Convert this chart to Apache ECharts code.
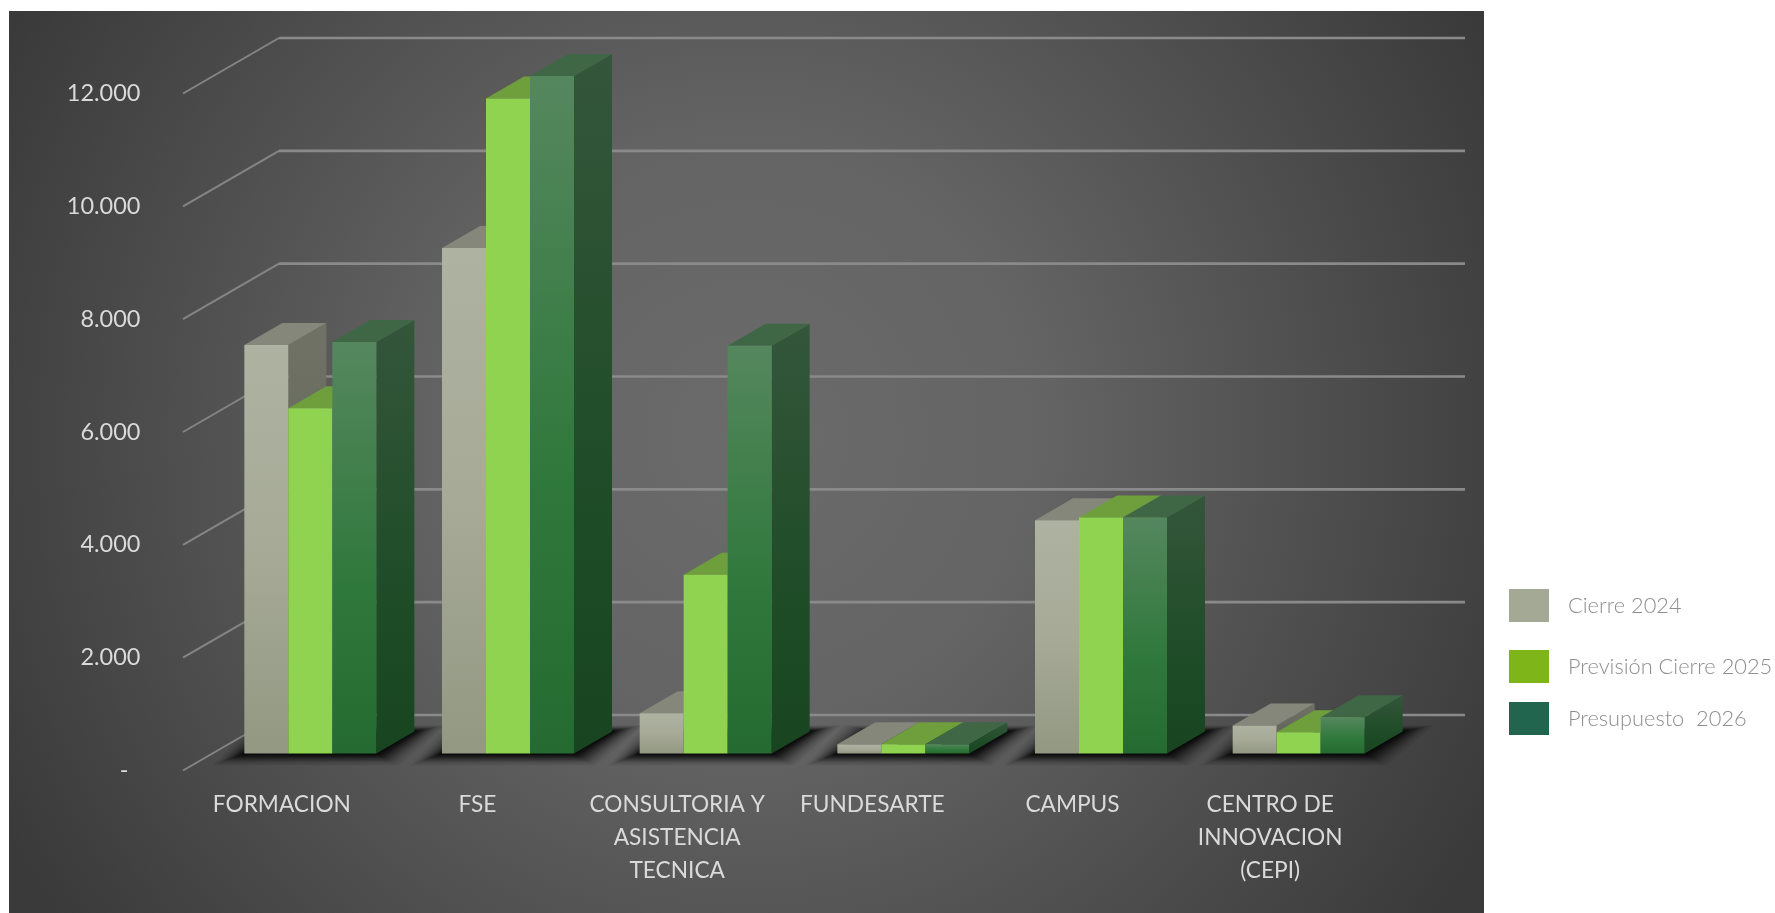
<!DOCTYPE html>
<html>
<head>
<meta charset="utf-8">
<style>html,body{margin:0;padding:0;background:#fff}#c{width:1775px;height:913px}</style>
<script src="https://cdn.jsdelivr.net/npm/echarts@6/dist/echarts.min.js"></script>
</head>
<body>
<div id="c"></div>
<script>
const categories = ['FORMACION','FSE','CONSULTORIA Y\nASISTENCIA\nTECNICA','FUNDESARTE','CAMPUS','CENTRO DE\nINNOVACION\n(CEPI)'];
const seriesNames = ['Cierre 2024','Previsión Cierre 2025','Presupuesto  2026'];
const cierre2024 = [7240, 8960, 715, 165, 4135, 497];
const prevision2025 = [6120, 11610, 3170, 165, 4182, 378];
const presupuesto2026 = [7295, 12010, 7228, 165, 4182, 644];
const yTickValues = [0, 2000, 4000, 6000, 8000, 10000, 12000];
const yTickLabels = ['-\u00a0\u00a0', '2.000', '4.000', '6.000', '8.000', '10.000', '12.000'];

const chart = echarts.init(document.getElementById('c'));
const G = echarts.graphic;
const LG = (stops) => new G.LinearGradient(0, 0, 0, 1, stops.map(s => ({offset: s[0], color: s[1]})));

const palettes = [
  {front: [[0, '#aeb2a0'], [0.5, '#a6aa97'], [1, '#939883']], top: '#84877a', side: [[0, '#6f7265'], [1, '#5b5e53']]},
  {front: [[0, '#90d350'], [1, '#90d350']], top: '#6f9f3d', side: [[0, '#5c8733'], [1, '#4d7a29']]},
  {front: [[0, '#55875e'], [0.6, '#2f783b'], [1, '#256b31']], top: '#3f6746', side: [[0, '#34563b'], [0.7, '#1c4b25'], [1, '#184520']]}
];
const legendColors = ['#a3a995', '#7eb519', '#21654f'];

const BAR_FRACTION = 0.2226;
const FACE_DX = 28.5, FACE_DY = 17;
const DEPTH_X = 38, DEPTH_Y = 22;
const WALL_DX = 96, WALL_DY = 55.5;
const SHADOW_LAYERS = [32, 30, 28, 26, 24, 22, 20, 18, 16, 14, 12, 10, 8, 6, 4, 2, 0];

function barRender(idx) {
  return function (params, api) {
    const c = api.coord([api.value(0), api.value(1)]);
    const base = api.coord([api.value(0), 0]);
    const w = api.size([1, 0])[0] * BAR_FRACTION;
    const x0 = c[0] + FACE_DX + (idx - 1.5) * w;
    const x1 = x0 + w;
    const yT = c[1] - FACE_DY, yB = base[1] - FACE_DY;
    const p = palettes[idx];
    return {
      type: 'group',
      children: [
        {type: 'polygon', shape: {points: [[x1, yT], [x1 + DEPTH_X, yT - DEPTH_Y], [x1 + DEPTH_X, yB - DEPTH_Y], [x1, yB]]},
          style: {fill: LG(p.side)}},
        {type: 'polygon', shape: {points: [[x0, yT], [x0 + DEPTH_X, yT - DEPTH_Y], [x1 + DEPTH_X, yT - DEPTH_Y], [x1, yT]]},
          style: {fill: p.top}},
        {type: 'rect', shape: {x: x0, y: yT, width: w, height: yB - yT}, style: {fill: LG(p.front)}}
      ]
    };
  };
}

const barData = [cierre2024, prevision2025, presupuesto2026];
const labelShift = {FSE: 4, FUNDESARTE: 5};

chart.setOption({
  animation: false,
  backgroundColor: '#fff',
  textStyle: {fontFamily: 'Lato'},
  graphic: [{
    type: 'rect', z: -10, silent: true,
    shape: {x: 9, y: 11, width: 1475, height: 902},
    style: {fill: new G.RadialGradient(0.5, 0.47, 0.93, [
      {offset: 0, color: '#6b6b6b'}, {offset: 0.35, color: '#646464'}, {offset: 1, color: '#3a3a3a'}])}
  }],
  legend: seriesNames.map((n, i) => ({
    data: [n], left: 1509, top: [589, 650, 702][i], padding: 0, icon: 'rect',
    itemWidth: 40, itemHeight: 33, selectedMode: false,
    textStyle: {color: '#8e8e8e', fontSize: 21.8, fontWeight: 300, fontFamily: 'Lato',
      padding: [i === 2 ? 0 : 4, 0, i === 2 ? 6 : 0, 14]}
  })),
  grid: {left: 183, top: 93.5, width: 1186, height: 677, containLabel: false},
  xAxis: {
    type: 'category',
    data: categories.map(c => labelShift[c] ? {value: c, textStyle: {padding: [0, labelShift[c], 0, 0]}} : c),
    axisLine: {show: false}, axisTick: {show: false}, splitLine: {show: false},
    axisLabel: {interval: 0, color: '#dadada', fontSize: 22.7, lineHeight: 33, margin: 18, fontFamily: 'Lato'}
  },
  yAxis: {
    type: 'value', min: 0, max: 12000, interval: 2000,
    axisLine: {show: false}, axisTick: {show: false}, splitLine: {show: false},
    axisLabel: {color: '#dadada', fontSize: 23.5, margin: 42.5, fontFamily: 'Lato',
      formatter: v => yTickLabels[yTickValues.indexOf(v)]}
  },
  series: [
    {
      type: 'custom', name: 'grid', silent: true, z: 1, clip: false,
      encode: {x: 0, y: 1},
      data: yTickValues.map(v => [0, v]),
      renderItem(params, api) {
        const y = api.coord([0, api.value(1)])[1];
        const cs = params.coordSys;
        const xF = cs.x, xB = cs.x + WALL_DX, xR = cs.x + cs.width + WALL_DX;
        return {
          type: 'group',
          children: [
            {type: 'line', shape: {x1: xF, y1: y, x2: xB, y2: y - WALL_DY}, style: {stroke: '#858585', lineWidth: 2}},
            {type: 'line', shape: {x1: xB, y1: y - WALL_DY, x2: xR, y2: y - WALL_DY}, style: {stroke: '#8a8a8a', lineWidth: 2.6}}
          ]
        };
      }
    },
    {
      type: 'custom', name: 'shadow', silent: true, z: 2, clip: false,
      encode: {x: 0, y: 1},
      data: categories.map((c, i) => [i, 0]),
      renderItem(params, api) {
        const b = api.coord([api.value(0), 0]);
        const w = api.size([1, 0])[0] * BAR_FRACTION;
        const x0 = b[0] + FACE_DX - 1.5 * w, x1 = x0 + 3 * w;
        const y = b[1] - FACE_DY;
        return {
          type: 'group',
          children: SHADOW_LAYERS.map(e => {
            const t = 1 - e / 32;
            return {
              type: 'polygon',
              shape: {points: [
                [x0 - e, y + e * 0.38],
                [x1 + e * 0.7, y + e * 0.38],
                [x1 + DEPTH_X + e, y - DEPTH_Y - e * 0.2],
                [x0 + DEPTH_X - e, y - DEPTH_Y - e * 0.2]
              ]},
              style: {fill: 'rgba(5,5,5,' + (0.03 + 0.32 * t * t).toFixed(3) + ')'}
            };
          })
        };
      }
    }
  ].concat(seriesNames.map((n, i) => ({
    type: 'custom', name: n, z: 3 + i, clip: false,
    itemStyle: {color: legendColors[i]},
    encode: {x: 0, y: 1},
    data: barData[i].map((v, k) => [k, v]),
    renderItem: barRender(i)
  })))
});
</script>
</body>
</html>
